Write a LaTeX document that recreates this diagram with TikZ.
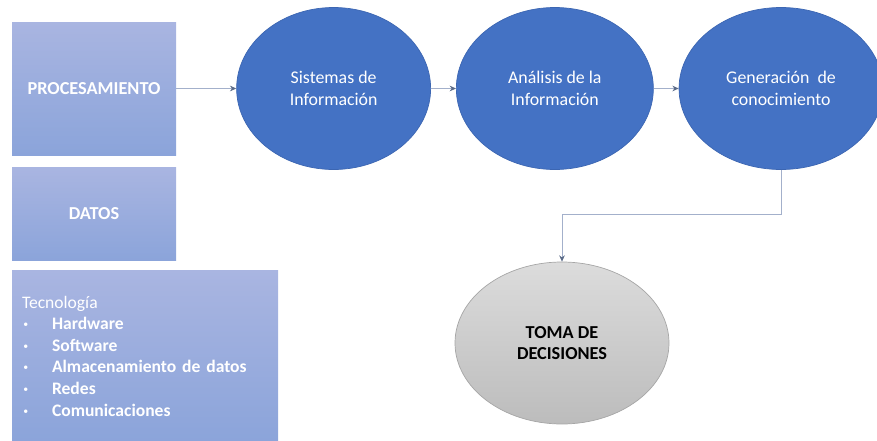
\documentclass[tikz,border=0pt]{standalone}
\usepackage{fontspec}
\setmainfont{Carlito}
\usepackage{xcolor}
\usepackage{tikz}
\usetikzlibrary{shapes.geometric, arrows.meta, positioning}
\definecolor{boxtop}{HTML}{A9B5E1}
\definecolor{boxbot}{HTML}{8BA4DA}
\definecolor{ellblue}{HTML}{4472C4}
\definecolor{elledge}{HTML}{3C66B2}
\definecolor{greytop}{HTML}{DCDCDC}
\definecolor{greybot}{HTML}{BCBCBC}
\definecolor{greyedge}{HTML}{A6A6A6}
\definecolor{linkcol}{HTML}{A3B0CB}
\definecolor{tipcol}{HTML}{5B6B88}
\newcommand{\techitem}[1]{\makebox[0.75cm][l]{\hspace{1pt}\raisebox{0.25ex}{\scriptsize\textbullet}}\textbf{#1}}

\begin{document}
\begin{tikzpicture}[
    every node/.style={font=\fontsize{12.5}{15.4}\selectfont},
    stagebox/.style={rectangle, top color=boxtop, bottom color=boxbot,
                  minimum width=4.1cm, inner sep=0pt, align=center,
                  text=white, font=\fontsize{13}{15.4}\selectfont\bfseries},
    techbox/.style={rectangle, top color=boxtop, bottom color=boxbot,
                  text width=6.15cm, inner xsep=0.25cm, inner ysep=0pt,
                  minimum height=4.3cm, align=left, text=white},
    flow/.style={ellipse, fill=ellblue, draw=elledge, line width=0.5pt,
                  minimum height=4.05cm, inner sep=0pt, align=center,
                  text=white, font=\fontsize{12.7}{15.8}\selectfont},
    decision/.style={ellipse, top color=greytop, bottom color=greybot,
                  draw=greyedge, line width=0.5pt, minimum width=5.35cm,
                  minimum height=4.05cm, inner sep=0pt, align=center,
                  font=\fontsize{13}{15.5}\selectfont\bfseries},
    arrow/.style={-{Stealth[length=4.5pt, width=4pt, color=tipcol]},
                  line width=0.6pt, color=linkcol}
]
\useasboundingbox (0,0) rectangle (21.925,-11.025);

% Left column
\node[stagebox, minimum height=3.325cm] (proc) at (2.35,-2.2125) {PROCESAMIENTO};
\node[stagebox, minimum height=2.325cm, below=0.3cm of proc] (datos) {DATOS};
\node[techbox, below=0.225cm of datos.south west, anchor=north west] (tec) {%
  Tecnología\\
  \techitem{Hardware}\\
  \techitem{Software}\\
  \techitem{Almacenamiento de datos}\\
  \techitem{Redes}\\
  \techitem{Comunicaciones}};

% Flow
\node[flow, minimum width=4.85cm, right=1.5cm of proc] (sis) {Sistemas de\\Información};
\node[flow, minimum width=4.925cm, right=0.625cm of sis] (ana) {Análisis de la\\Información};
\node[flow, minimum width=5.1cm, right=0.625cm of ana] (gen) {Generación\ \ de\\conocimiento};
\node[decision] (toma) at (14.05,-8.575) {TOMA DE\\DECISIONES};

% Arrows
\draw[arrow] (proc) -- (sis);
\draw[arrow] (sis) -- (ana);
\draw[arrow] (ana) -- (gen);
\draw[arrow] (gen.south) -- ++(0,-1.125) -| (toma.north);

\end{tikzpicture}
\end{document}
